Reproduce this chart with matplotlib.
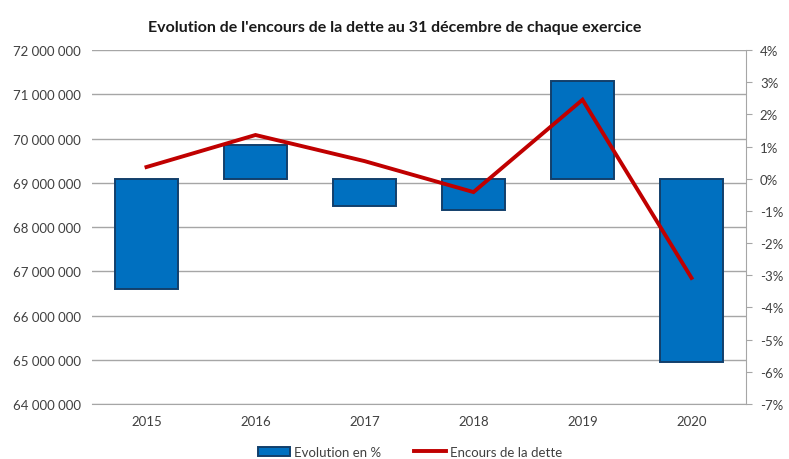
import numpy as np
import matplotlib.pyplot as plt
from matplotlib.ticker import FuncFormatter

years = ['2015', '2016', '2017', '2018', '2019', '2020']
evolution = [-3.42, 1.05, -0.84, -0.98, 3.05, -5.68]      # % (right axis)
encours = [69356000, 70080000, 69490000, 68790000, 70877000, 66850000]  # left axis

plt.rcParams['font.family'] = ['Lato', 'DejaVu Sans']
txt = '#404040'

fig = plt.figure(figsize=(7.89, 4.6), dpi=100)
ax1 = fig.add_axes([0.1166, 0.1196, 0.8289, 0.7694])
ax2 = ax1.twinx()

x = np.arange(len(years))

# left axis: encours, with the grid
ax1.set_ylim(64e6, 72e6)
ax1.set_yticks(np.arange(64e6, 72e6 + 1, 1e6))
ax1.yaxis.set_major_formatter(FuncFormatter(lambda v, p: f'{int(v):,}'.replace(',', ' ')))
ax1.grid(axis='y', color='#a6a6a6', lw=1)
ax1.set_axisbelow(True)
ax1.tick_params(axis='y', length=0, pad=8, labelsize=9.5, labelcolor=txt)
ax1.tick_params(axis='x', length=0, pad=8, labelsize=9.5, labelcolor=txt)
ax1.set_xticks(x)
ax1.set_xticklabels(years)
ax1.set_xlim(-0.5, len(years) - 0.5)
for s in ['left', 'top', 'right']:
    ax1.spines[s].set_visible(False)
ax1.spines['bottom'].set_color('#a6a6a6')

# right axis: evolution bars
bars = ax2.bar(x, evolution, width=0.57, color='#0070C0', edgecolor='#123f6b',
               lw=1.4, label='Evolution en %', zorder=2)
ax2.set_ylim(-7, 4)
ax2.set_yticks(np.arange(-7, 5, 1))
ax2.yaxis.set_major_formatter(FuncFormatter(lambda v, p: f'{int(round(v))}%'))
ax2.tick_params(axis='y', length=4, color='#a6a6a6', labelsize=9.5, labelcolor=txt, pad=6)
for s in ['left', 'top', 'bottom']:
    ax2.spines[s].set_visible(False)
ax2.spines['right'].set_color('#a6a6a6')

# line drawn above the bars, in the left-axis scale
line, = ax2.plot(x, encours, transform=ax1.transData, color='#C00000', lw=2.8,
                 label='Encours de la dette', zorder=4, solid_joinstyle='miter')
ax2.set_ylim(-7, 4)

fig.suptitle("Evolution de l'encours de la dette au 31 décembre de chaque exercice",
             y=0.955, fontsize=11.5, fontweight='bold', color='#1a1a1a')

fig.legend(handles=[bars, line], labels=['Evolution en %', 'Encours de la dette'],
           loc='center', bbox_to_anchor=(0.52, 0.015), ncol=2, frameon=False,
           fontsize=9.5, labelcolor=txt, handlelength=2.4, handletextpad=0.3,
           columnspacing=2.5)

fig.savefig('out.png', dpi=100)
